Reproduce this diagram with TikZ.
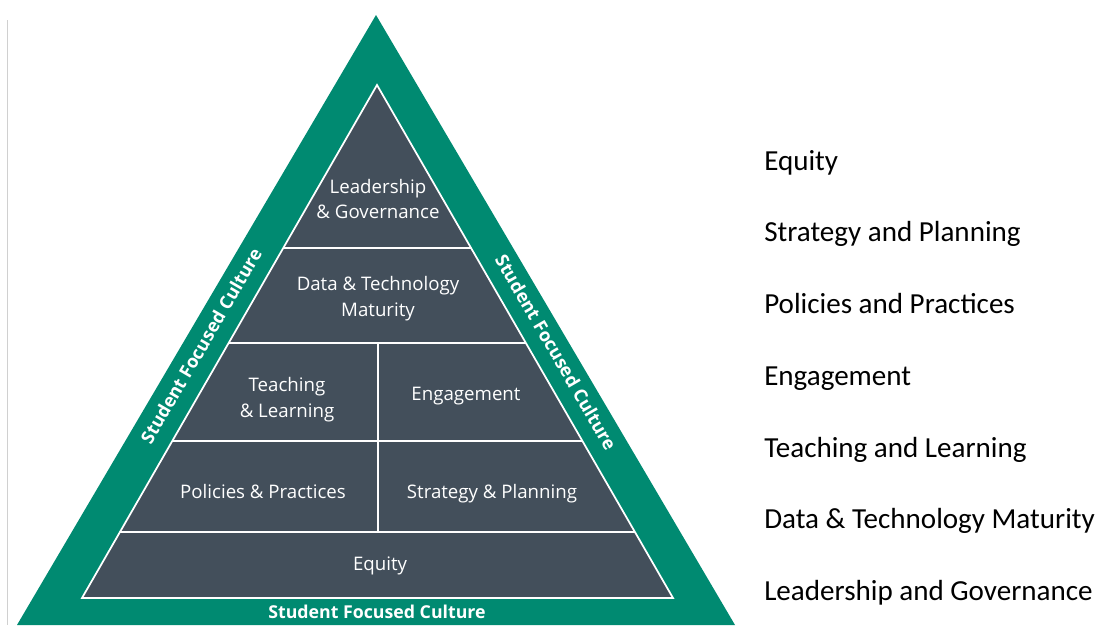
\documentclass[tikz,border=0pt]{standalone}
\usepackage{fontspec}
\setmainfont{Open Sans}
\newfontfamily\calib{Carlito}
\usetikzlibrary{calc}
\definecolor{sfcteal}{HTML}{008A71}
\definecolor{pgray}{HTML}{434F5B}
\definecolor{framegray}{HTML}{D0D0D0}
\begin{document}
\begin{tikzpicture}[x=0.75pt,y=0.75pt,
  band/.style={fill=pgray, draw=white, line width=1.3pt, line join=miter},
  divider/.style={draw=white, line width=1.3pt},
  pyrtext/.style={text=white, font=\fontsize{14}{17}\selectfont, inner sep=0pt, anchor=base},
  sidetext/.style={text=white, font=\bfseries\fontsize{13.6}{16}\selectfont, inner sep=0pt},
  basetext/.style={text=white, font=\bfseries\fontsize{13.3}{16}\selectfont, inner sep=0pt, anchor=base},
  listtext/.style={font=\calib\fontsize{21.8}{25}\selectfont, inner sep=0pt, anchor=base west}]
\useasboundingbox (0,0) rectangle (1102,-625);
% left frame line
\coordinate (frameT) at (7.5,-20);
\coordinate (frameB) at (7.5,-625);
\draw[draw=framegray, line width=0.8pt] (frameT) -- (frameB);
% outer teal triangle
\coordinate (OL) at (17,-625);
\coordinate (OA) at (376,-15);
\coordinate (OR) at (735,-625);
\fill[sfcteal] (OL) -- (OA) -- (OR) -- cycle;
% inner pyramid
\coordinate (IA) at (377,-85);
\coordinate (IL) at (82,-598);
\coordinate (IR) at (673,-598);
\draw[band] (IL) -- (IA) -- (IR) -- cycle;
\foreach \n/\t in {1/0.3177,2/0.5029,3/0.6940,4/0.8713}{
  \coordinate (L\n) at ($(IA)!\t!(IL)$);
  \coordinate (R\n) at ($(IA)!\t!(IR)$);
  \draw[divider] (L\n) -- (R\n);
}
\coordinate (V2) at (378,-343);
\coordinate (V4) at (378,-532);
\draw[divider] (V2) -- (V4);
% pyramid labels
\node[pyrtext] (lead1) at (378,-193) {Leadership};
\node[pyrtext] (lead2) at (378,-218) {\& Governance};
\node[pyrtext] (data1) at (378,-290) {Data \& Technology};
\node[pyrtext] (data2) at (378,-316) {Maturity};
\node[pyrtext] (teach1) at (287,-391) {Teaching};
\node[pyrtext] (teach2) at (287,-417) {\& Learning};
\node[pyrtext] (engage) at (466,-400) {Engagement};
\node[pyrtext] (policy) at (263,-498) {Policies \& Practices};
\node[pyrtext] (strat) at (492,-498) {Strategy \& Planning};
\node[pyrtext] (equity) at (380,-570) {Equity};
% culture labels
\node[sidetext, rotate=59.8] (sfcL) at (201,-346) {Student Focused Culture};
\node[sidetext, rotate=-59.8] (sfcR) at (556,-352) {Student Focused Culture};
\node[basetext] (sfcB) at (377,-618) {Student Focused Culture};
% list
\node[listtext] (li1) at (764,-170) {Equity};
\node[listtext] (li2) at (764,-241) {Strategy and Planning};
\node[listtext] (li3) at (764,-313) {Policies and Practices};
\node[listtext] (li4) at (764,-385) {Engagement};
\node[listtext] (li5) at (764,-457) {Teaching and Learning};
\node[listtext] (li6) at (764,-528) {Data \& Technology Maturity};
\node[listtext] (li7) at (764,-600) {Leadership and Governance};
\end{tikzpicture}
\end{document}
